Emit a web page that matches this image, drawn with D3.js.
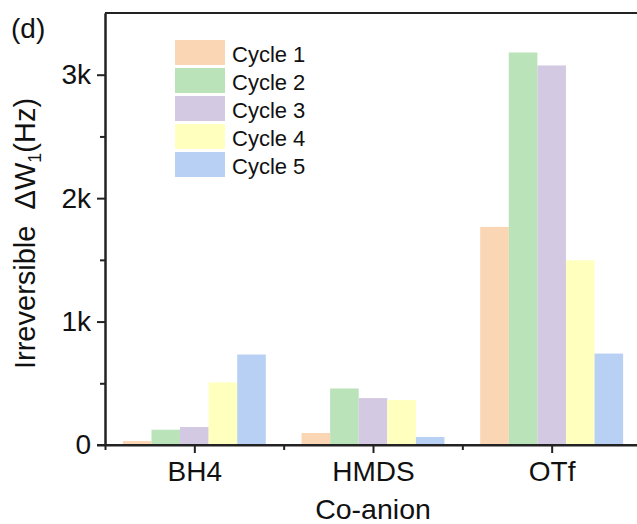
<!doctype html>
<html lang="en">
  <head>
    <meta charset="UTF-8" />
    <title>Irreversible dW1 by co-anion</title>
    <style>
      body { margin: 0; background: #fff; }
      svg { display: block; font-family: "Liberation Sans", Arial, sans-serif; }
      .axis path, .axis line { stroke: #222; stroke-width: 2px; }
      .axis text { font-size: 28px; fill: #111; font-family: "Liberation Sans", Arial, sans-serif; }
    </style>
  </head>
  <body>
    <div id="chart"></div>
    <script src="https://d3js.org/d3.v7.min.js"></script>
    <script>
      // values
      const categories = ['BH4', 'HMDS', 'OTf'];
      const series = ['Cycle 1', 'Cycle 2', 'Cycle 3', 'Cycle 4', 'Cycle 5'];
      const cycle1 = [32, 97, 1767];
      const cycle2 = [124, 458, 3180];
      const cycle3 = [146, 380, 3075];
      const cycle4 = [507, 364, 1496];
      const cycle5 = [733, 65, 741];
      const colors = ['#FAD6B4', '#BBE3BA', '#D3C9E2', '#FFFFBE', '#B8D0F3'];
      const yMajor = [0, 1000, 2000, 3000];
      const yMinor = [500, 1500, 2500];
      const yLabels = ['0', '1k', '2k', '3k'];

      const values = [cycle1, cycle2, cycle3, cycle4, cycle5];

      const width = 637, height = 524;
      const plotLeft = 105, plotRight = 641, plotTop = 13, plotBottom = 445;

      const svg = d3.select('#chart').append('svg').attr('width', width).attr('height', height);

      const x = d3.scaleBand().domain(categories).range([plotLeft, plotRight]).paddingInner(0.2).paddingOuter(0.1);
      const xs = d3.scaleBand().domain(series).range([0, x.bandwidth()]);
      const y = d3.scaleLinear().domain([0, 3500]).range([plotBottom, plotTop]);

      // bars
      series.forEach((s, i) => {
        svg.append('g')
          .selectAll('rect')
          .data(categories)
          .enter()
          .append('rect')
          .attr('x', (c) => x(c) + xs(s))
          .attr('width', xs.bandwidth())
          .attr('y', (c, j) => y(values[i][j]))
          .attr('height', (c, j) => plotBottom - y(values[i][j]))
          .attr('fill', colors[i]);
      });

      // x axis: major ticks at centres, minor ticks at band edges
      const xc = d3.scaleLinear().domain([-0.5, 2.5]).range([plotLeft, plotRight]);
      svg.append('g')
        .attr('class', 'axis')
        .attr('transform', `translate(0,${plotBottom})`)
        .call(d3.axisBottom(xc).tickValues([-0.5, 0.5, 1.5]).tickSize(5).tickSizeOuter(0).tickFormat(''));
      svg.append('g')
        .attr('class', 'axis')
        .attr('transform', `translate(0,${plotBottom})`)
        .call(d3.axisBottom(xc).tickValues([0, 1, 2]).tickSize(8).tickSizeOuter(0).tickPadding(8)
          .tickFormat((d) => categories[d]))
        .call((g) => g.select('.domain').remove());
      // extend x axis line to the left a bit, like the original
      svg.append('line').attr('x1', plotLeft - 8).attr('x2', plotRight).attr('y1', plotBottom).attr('y2', plotBottom)
        .attr('stroke', '#222').attr('stroke-width', 2);

      // y axis
      svg.append('g')
        .attr('class', 'axis')
        .attr('transform', `translate(${plotLeft},0)`)
        .call(d3.axisLeft(y).tickValues(yMinor).tickSize(5).tickSizeOuter(0).tickFormat(''));
      svg.append('g')
        .attr('class', 'axis')
        .attr('transform', `translate(${plotLeft},0)`)
        .call(d3.axisLeft(y).tickValues(yMajor).tickSize(8).tickSizeOuter(0).tickPadding(6)
          .tickFormat((d, i) => yLabels[i]));

      // top frame line
      svg.append('line').attr('x1', plotLeft).attr('x2', plotRight).attr('y1', plotTop).attr('y2', plotTop)
        .attr('stroke', '#222').attr('stroke-width', 2);

      // axis titles
      svg.append('text')
        .attr('x', (plotLeft + plotRight) / 2)
        .attr('y', 519)
        .attr('text-anchor', 'middle')
        .attr('font-size', 28.5)
        .attr('fill', '#111')
        .text('Co-anion');

      const yt = svg.append('text')
        .attr('transform', 'translate(35,369) rotate(-90)')
        .attr('font-size', 29)
        .attr('fill', '#111')
        .attr('xml:space', 'preserve');
      yt.append('tspan').text('Irreversible  \u0394W');
      yt.append('tspan').attr('font-size', 18).attr('dy', 6).text('1');
      yt.append('tspan').attr('dy', -6).text('(Hz)');

      // panel label
      svg.append('text').attr('x', 11).attr('y', 38).attr('font-size', 28).attr('fill', '#111').text('(d)');

      // legend
      const legend = svg.append('g');
      series.forEach((s, i) => {
        legend.append('rect')
          .attr('x', 175).attr('y', 40 + 28 * i)
          .attr('width', 50).attr('height', 25)
          .attr('fill', colors[i]);
        legend.append('text')
          .attr('x', 232).attr('y', 61.5 + 28 * i)
          .attr('font-size', 22).attr('fill', '#111')
          .text(s);
      });
    </script>
  </body>
</html>
